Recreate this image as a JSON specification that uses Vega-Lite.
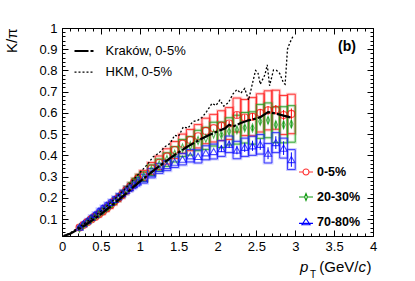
{
"$schema": "https://vega.github.io/schema/vega-lite/v6.json",
"width": 311, "height": 208,
"autosize": {"type": "none"},
"padding": {"left": 62, "top": 28, "right": 42, "bottom": 45},
"background": "white",
"config": {"view": {"stroke": "black", "strokeWidth": 1}, "font": "Liberation Sans", "axis": {"labelOverlap": false}},
"datasets": {
"pts": [
{"c":"0-5%","pt":0.225,"v":0.060,"x0":0.2,"x1":0.25,"lo":0.054,"hi":0.066},
{"c":"0-5%","pt":0.275,"v":0.072,"x0":0.25,"x1":0.3,"lo":0.065,"hi":0.079},
{"c":"0-5%","pt":0.325,"v":0.085,"x0":0.3,"x1":0.35,"lo":0.077,"hi":0.093},
{"c":"0-5%","pt":0.375,"v":0.098,"x0":0.35,"x1":0.4,"lo":0.089,"hi":0.107},
{"c":"0-5%","pt":0.425,"v":0.110,"x0":0.4,"x1":0.45,"lo":0.100,"hi":0.120},
{"c":"0-5%","pt":0.475,"v":0.122,"x0":0.45,"x1":0.5,"lo":0.111,"hi":0.133},
{"c":"0-5%","pt":0.525,"v":0.135,"x0":0.5,"x1":0.55,"lo":0.123,"hi":0.147},
{"c":"0-5%","pt":0.575,"v":0.150,"x0":0.55,"x1":0.6,"lo":0.137,"hi":0.163},
{"c":"0-5%","pt":0.625,"v":0.165,"x0":0.6,"x1":0.65,"lo":0.151,"hi":0.179},
{"c":"0-5%","pt":0.675,"v":0.182,"x0":0.65,"x1":0.7,"lo":0.167,"hi":0.197},
{"c":"0-5%","pt":0.725,"v":0.198,"x0":0.7,"x1":0.75,"lo":0.182,"hi":0.214},
{"c":"0-5%","pt":0.775,"v":0.215,"x0":0.75,"x1":0.8,"lo":0.198,"hi":0.232},
{"c":"0-5%","pt":0.825,"v":0.235,"x0":0.8,"x1":0.85,"lo":0.217,"hi":0.253},
{"c":"0-5%","pt":0.875,"v":0.252,"x0":0.85,"x1":0.9,"lo":0.233,"hi":0.271},
{"c":"0-5%","pt":0.925,"v":0.272,"x0":0.9,"x1":0.95,"lo":0.252,"hi":0.292},
{"c":"0-5%","pt":0.975,"v":0.290,"x0":0.95,"x1":1.0,"lo":0.269,"hi":0.311},
{"c":"0-5%","pt":1.05,"v":0.305,"x0":1.0,"x1":1.1,"lo":0.281,"hi":0.329},
{"c":"0-5%","pt":1.15,"v":0.338,"x0":1.1,"x1":1.2,"lo":0.310,"hi":0.366},
{"c":"0-5%","pt":1.25,"v":0.365,"x0":1.2,"x1":1.3,"lo":0.333,"hi":0.397},
{"c":"0-5%","pt":1.35,"v":0.395,"x0":1.3,"x1":1.4,"lo":0.359,"hi":0.431},
{"c":"0-5%","pt":1.45,"v":0.425,"x0":1.4,"x1":1.5,"lo":0.385,"hi":0.465},
{"c":"0-5%","pt":1.55,"v":0.455,"x0":1.5,"x1":1.6,"lo":0.410,"hi":0.500},
{"c":"0-5%","pt":1.65,"v":0.472,"x0":1.6,"x1":1.7,"lo":0.422,"hi":0.522},
{"c":"0-5%","pt":1.75,"v":0.490,"x0":1.7,"x1":1.8,"lo":0.435,"hi":0.545},
{"c":"0-5%","pt":1.85,"v":0.515,"x0":1.8,"x1":1.9,"lo":0.455,"hi":0.575},
{"c":"0-5%","pt":1.95,"v":0.528,"x0":1.9,"x1":2.0,"lo":0.463,"hi":0.593},
{"c":"0-5%","pt":2.05,"v":0.540,"x0":2.0,"x1":2.1,"lo":0.470,"hi":0.610},
{"c":"0-5%","pt":2.15,"v":0.550,"x0":2.1,"x1":2.2,"lo":0.475,"hi":0.625},
{"c":"0-5%","pt":2.25,"v":0.590,"x0":2.2,"x1":2.3,"lo":0.510,"hi":0.670},
{"c":"0-5%","pt":2.35,"v":0.578,"x0":2.3,"x1":2.4,"lo":0.493,"hi":0.663},
{"c":"0-5%","pt":2.45,"v":0.582,"x0":2.4,"x1":2.5,"lo":0.492,"hi":0.672},
{"c":"0-5%","pt":2.55,"v":0.600,"x0":2.5,"x1":2.6,"lo":0.510,"hi":0.690},
{"c":"0-5%","pt":2.65,"v":0.612,"x0":2.6,"x1":2.7,"lo":0.520,"hi":0.704},
{"c":"0-5%","pt":2.75,"v":0.615,"x0":2.7,"x1":2.8,"lo":0.523,"hi":0.707},
{"c":"0-5%","pt":2.85,"v":0.590,"x0":2.8,"x1":2.9,"lo":0.498,"hi":0.682},
{"c":"0-5%","pt":2.95,"v":0.595,"x0":2.9,"x1":3.0,"lo":0.502,"hi":0.688},
{"c":"20-30%","pt":0.225,"v":0.058,"x0":0.2,"x1":0.25,"lo":0.053,"hi":0.063},
{"c":"20-30%","pt":0.275,"v":0.071,"x0":0.25,"x1":0.3,"lo":0.065,"hi":0.077},
{"c":"20-30%","pt":0.325,"v":0.085,"x0":0.3,"x1":0.35,"lo":0.078,"hi":0.092},
{"c":"20-30%","pt":0.375,"v":0.099,"x0":0.35,"x1":0.4,"lo":0.091,"hi":0.107},
{"c":"20-30%","pt":0.425,"v":0.112,"x0":0.4,"x1":0.45,"lo":0.103,"hi":0.121},
{"c":"20-30%","pt":0.475,"v":0.125,"x0":0.45,"x1":0.5,"lo":0.115,"hi":0.135},
{"c":"20-30%","pt":0.525,"v":0.139,"x0":0.5,"x1":0.55,"lo":0.128,"hi":0.150},
{"c":"20-30%","pt":0.575,"v":0.153,"x0":0.55,"x1":0.6,"lo":0.141,"hi":0.165},
{"c":"20-30%","pt":0.625,"v":0.168,"x0":0.6,"x1":0.65,"lo":0.155,"hi":0.181},
{"c":"20-30%","pt":0.675,"v":0.184,"x0":0.65,"x1":0.7,"lo":0.170,"hi":0.198},
{"c":"20-30%","pt":0.725,"v":0.200,"x0":0.7,"x1":0.75,"lo":0.185,"hi":0.215},
{"c":"20-30%","pt":0.775,"v":0.217,"x0":0.75,"x1":0.8,"lo":0.201,"hi":0.233},
{"c":"20-30%","pt":0.825,"v":0.236,"x0":0.8,"x1":0.85,"lo":0.219,"hi":0.253},
{"c":"20-30%","pt":0.875,"v":0.253,"x0":0.85,"x1":0.9,"lo":0.235,"hi":0.271},
{"c":"20-30%","pt":0.925,"v":0.272,"x0":0.9,"x1":0.95,"lo":0.253,"hi":0.291},
{"c":"20-30%","pt":0.975,"v":0.289,"x0":0.95,"x1":1.0,"lo":0.269,"hi":0.309},
{"c":"20-30%","pt":1.05,"v":0.300,"x0":1.0,"x1":1.1,"lo":0.278,"hi":0.322},
{"c":"20-30%","pt":1.15,"v":0.330,"x0":1.1,"x1":1.2,"lo":0.305,"hi":0.355},
{"c":"20-30%","pt":1.25,"v":0.355,"x0":1.2,"x1":1.3,"lo":0.327,"hi":0.383},
{"c":"20-30%","pt":1.35,"v":0.380,"x0":1.3,"x1":1.4,"lo":0.348,"hi":0.412},
{"c":"20-30%","pt":1.45,"v":0.405,"x0":1.4,"x1":1.5,"lo":0.369,"hi":0.441},
{"c":"20-30%","pt":1.55,"v":0.435,"x0":1.5,"x1":1.6,"lo":0.395,"hi":0.475},
{"c":"20-30%","pt":1.65,"v":0.445,"x0":1.6,"x1":1.7,"lo":0.401,"hi":0.489},
{"c":"20-30%","pt":1.75,"v":0.470,"x0":1.7,"x1":1.8,"lo":0.422,"hi":0.518},
{"c":"20-30%","pt":1.85,"v":0.480,"x0":1.8,"x1":1.9,"lo":0.428,"hi":0.532},
{"c":"20-30%","pt":1.95,"v":0.500,"x0":1.9,"x1":2.0,"lo":0.444,"hi":0.556},
{"c":"20-30%","pt":2.05,"v":0.497,"x0":2.0,"x1":2.1,"lo":0.437,"hi":0.557},
{"c":"20-30%","pt":2.15,"v":0.513,"x0":2.1,"x1":2.2,"lo":0.449,"hi":0.577},
{"c":"20-30%","pt":2.25,"v":0.521,"x0":2.2,"x1":2.3,"lo":0.453,"hi":0.589},
{"c":"20-30%","pt":2.35,"v":0.530,"x0":2.3,"x1":2.4,"lo":0.458,"hi":0.602},
{"c":"20-30%","pt":2.45,"v":0.529,"x0":2.4,"x1":2.5,"lo":0.453,"hi":0.605},
{"c":"20-30%","pt":2.55,"v":0.560,"x0":2.5,"x1":2.6,"lo":0.480,"hi":0.640},
{"c":"20-30%","pt":2.65,"v":0.565,"x0":2.6,"x1":2.7,"lo":0.483,"hi":0.647},
{"c":"20-30%","pt":2.75,"v":0.544,"x0":2.7,"x1":2.8,"lo":0.460,"hi":0.628},
{"c":"20-30%","pt":2.85,"v":0.544,"x0":2.8,"x1":2.9,"lo":0.459,"hi":0.629},
{"c":"20-30%","pt":2.95,"v":0.548,"x0":2.9,"x1":3.0,"lo":0.462,"hi":0.634},
{"c":"70-80%","pt":0.225,"v":0.062,"x0":0.2,"x1":0.25,"lo":0.057,"hi":0.067},
{"c":"70-80%","pt":0.275,"v":0.078,"x0":0.25,"x1":0.3,"lo":0.072,"hi":0.084},
{"c":"70-80%","pt":0.325,"v":0.092,"x0":0.3,"x1":0.35,"lo":0.085,"hi":0.099},
{"c":"70-80%","pt":0.375,"v":0.108,"x0":0.35,"x1":0.4,"lo":0.100,"hi":0.116},
{"c":"70-80%","pt":0.425,"v":0.122,"x0":0.4,"x1":0.45,"lo":0.113,"hi":0.131},
{"c":"70-80%","pt":0.475,"v":0.138,"x0":0.45,"x1":0.5,"lo":0.128,"hi":0.148},
{"c":"70-80%","pt":0.525,"v":0.152,"x0":0.5,"x1":0.55,"lo":0.141,"hi":0.163},
{"c":"70-80%","pt":0.575,"v":0.165,"x0":0.55,"x1":0.6,"lo":0.153,"hi":0.177},
{"c":"70-80%","pt":0.625,"v":0.178,"x0":0.6,"x1":0.65,"lo":0.165,"hi":0.191},
{"c":"70-80%","pt":0.675,"v":0.192,"x0":0.65,"x1":0.7,"lo":0.178,"hi":0.206},
{"c":"70-80%","pt":0.725,"v":0.205,"x0":0.7,"x1":0.75,"lo":0.190,"hi":0.220},
{"c":"70-80%","pt":0.775,"v":0.220,"x0":0.75,"x1":0.8,"lo":0.204,"hi":0.236},
{"c":"70-80%","pt":0.825,"v":0.235,"x0":0.8,"x1":0.85,"lo":0.218,"hi":0.252},
{"c":"70-80%","pt":0.875,"v":0.248,"x0":0.85,"x1":0.9,"lo":0.230,"hi":0.266},
{"c":"70-80%","pt":0.925,"v":0.262,"x0":0.9,"x1":0.95,"lo":0.243,"hi":0.281},
{"c":"70-80%","pt":0.975,"v":0.275,"x0":0.95,"x1":1.0,"lo":0.255,"hi":0.295},
{"c":"70-80%","pt":1.05,"v":0.290,"x0":1.0,"x1":1.1,"lo":0.269,"hi":0.311},
{"c":"70-80%","pt":1.15,"v":0.316,"x0":1.1,"x1":1.2,"lo":0.294,"hi":0.338},
{"c":"70-80%","pt":1.25,"v":0.338,"x0":1.2,"x1":1.3,"lo":0.315,"hi":0.361},
{"c":"70-80%","pt":1.35,"v":0.352,"x0":1.3,"x1":1.4,"lo":0.328,"hi":0.376},
{"c":"70-80%","pt":1.45,"v":0.368,"x0":1.4,"x1":1.5,"lo":0.343,"hi":0.393},
{"c":"70-80%","pt":1.55,"v":0.382,"x0":1.5,"x1":1.6,"lo":0.355,"hi":0.409},
{"c":"70-80%","pt":1.65,"v":0.398,"x0":1.6,"x1":1.7,"lo":0.369,"hi":0.427},
{"c":"70-80%","pt":1.75,"v":0.395,"x0":1.7,"x1":1.8,"lo":0.364,"hi":0.426},
{"c":"70-80%","pt":1.85,"v":0.412,"x0":1.8,"x1":1.9,"lo":0.379,"hi":0.445},
{"c":"70-80%","pt":1.95,"v":0.418,"x0":1.9,"x1":2.0,"lo":0.383,"hi":0.453},
{"c":"70-80%","pt":2.05,"v":0.432,"x0":2.0,"x1":2.1,"lo":0.395,"hi":0.469},
{"c":"70-80%","pt":2.15,"v":0.452,"x0":2.1,"x1":2.2,"lo":0.413,"hi":0.491},
{"c":"70-80%","pt":2.25,"v":0.425,"x0":2.2,"x1":2.3,"lo":0.384,"hi":0.466},
{"c":"70-80%","pt":2.35,"v":0.438,"x0":2.3,"x1":2.4,"lo":0.395,"hi":0.481},
{"c":"70-80%","pt":2.45,"v":0.445,"x0":2.4,"x1":2.5,"lo":0.400,"hi":0.490},
{"c":"70-80%","pt":2.55,"v":0.452,"x0":2.5,"x1":2.6,"lo":0.406,"hi":0.498},
{"c":"70-80%","pt":2.65,"v":0.410,"x0":2.6,"x1":2.7,"lo":0.364,"hi":0.456},
{"c":"70-80%","pt":2.75,"v":0.460,"x0":2.7,"x1":2.8,"lo":0.413,"hi":0.507},
{"c":"70-80%","pt":2.85,"v":0.434,"x0":2.8,"x1":2.9,"lo":0.387,"hi":0.481},
{"c":"70-80%","pt":2.95,"v":0.380,"x0":2.9,"x1":3.0,"lo":0.333,"hi":0.427}
],
"stat": [
{"c":"0-5%","pt":2.05,"elo":0.528,"ehi":0.552},{"c":"0-5%","pt":2.15,"elo":0.537,"ehi":0.563},{"c":"0-5%","pt":2.25,"elo":0.576,"ehi":0.604},{"c":"0-5%","pt":2.35,"elo":0.563,"ehi":0.593},{"c":"0-5%","pt":2.45,"elo":0.565,"ehi":0.599},{"c":"0-5%","pt":2.55,"elo":0.582,"ehi":0.618},{"c":"0-5%","pt":2.65,"elo":0.592,"ehi":0.632},{"c":"0-5%","pt":2.75,"elo":0.593,"ehi":0.637},{"c":"0-5%","pt":2.85,"elo":0.566,"ehi":0.614},{"c":"0-5%","pt":2.95,"elo":0.569,"ehi":0.621},
{"c":"20-30%","pt":2.05,"elo":0.487,"ehi":0.507},{"c":"20-30%","pt":2.15,"elo":0.502,"ehi":0.524},{"c":"20-30%","pt":2.25,"elo":0.509,"ehi":0.533},{"c":"20-30%","pt":2.35,"elo":0.517,"ehi":0.543},{"c":"20-30%","pt":2.45,"elo":0.515,"ehi":0.543},{"c":"20-30%","pt":2.55,"elo":0.545,"ehi":0.575},{"c":"20-30%","pt":2.65,"elo":0.549,"ehi":0.581},{"c":"20-30%","pt":2.75,"elo":0.527,"ehi":0.561},{"c":"20-30%","pt":2.85,"elo":0.526,"ehi":0.562},{"c":"20-30%","pt":2.95,"elo":0.529,"ehi":0.567},
{"c":"70-80%","pt":2.05,"elo":0.416,"ehi":0.448},{"c":"70-80%","pt":2.15,"elo":0.434,"ehi":0.470},{"c":"70-80%","pt":2.25,"elo":0.405,"ehi":0.445},{"c":"70-80%","pt":2.35,"elo":0.416,"ehi":0.460},{"c":"70-80%","pt":2.45,"elo":0.421,"ehi":0.469},{"c":"70-80%","pt":2.55,"elo":0.426,"ehi":0.478},{"c":"70-80%","pt":2.65,"elo":0.382,"ehi":0.438},{"c":"70-80%","pt":2.75,"elo":0.430,"ehi":0.490},{"c":"70-80%","pt":2.85,"elo":0.402,"ehi":0.466},{"c":"70-80%","pt":2.95,"elo":0.346,"ehi":0.414}
],
"models": [
{"m":"Kraków, 0-5%","pt":0.02,"v":0.020},{"m":"Kraków, 0-5%","pt":0.1,"v":0.030},{"m":"Kraków, 0-5%","pt":0.2,"v":0.050},{"m":"Kraków, 0-5%","pt":0.3,"v":0.072},{"m":"Kraków, 0-5%","pt":0.4,"v":0.097},{"m":"Kraków, 0-5%","pt":0.5,"v":0.123},{"m":"Kraków, 0-5%","pt":0.6,"v":0.152},{"m":"Kraków, 0-5%","pt":0.7,"v":0.182},{"m":"Kraków, 0-5%","pt":0.8,"v":0.213},{"m":"Kraków, 0-5%","pt":0.9,"v":0.245},{"m":"Kraków, 0-5%","pt":1.0,"v":0.276},{"m":"Kraków, 0-5%","pt":1.1,"v":0.306},{"m":"Kraków, 0-5%","pt":1.2,"v":0.335},{"m":"Kraków, 0-5%","pt":1.3,"v":0.362},{"m":"Kraków, 0-5%","pt":1.4,"v":0.389},{"m":"Kraków, 0-5%","pt":1.5,"v":0.414},{"m":"Kraków, 0-5%","pt":1.6,"v":0.438},{"m":"Kraków, 0-5%","pt":1.7,"v":0.459},{"m":"Kraków, 0-5%","pt":1.8,"v":0.479},{"m":"Kraków, 0-5%","pt":1.9,"v":0.497},{"m":"Kraków, 0-5%","pt":2.0,"v":0.513},{"m":"Kraków, 0-5%","pt":2.1,"v":0.528},{"m":"Kraków, 0-5%","pt":2.15,"v":0.544},{"m":"Kraków, 0-5%","pt":2.2,"v":0.536},{"m":"Kraków, 0-5%","pt":2.3,"v":0.552},{"m":"Kraków, 0-5%","pt":2.4,"v":0.565},{"m":"Kraków, 0-5%","pt":2.5,"v":0.574},{"m":"Kraków, 0-5%","pt":2.55,"v":0.580},{"m":"Kraków, 0-5%","pt":2.65,"v":0.604},{"m":"Kraków, 0-5%","pt":2.75,"v":0.597},{"m":"Kraków, 0-5%","pt":2.85,"v":0.587},{"m":"Kraków, 0-5%","pt":2.95,"v":0.578},
{"m":"HKM, 0-5%","pt":0.02,"v":0.020},{"m":"HKM, 0-5%","pt":0.1,"v":0.033},{"m":"HKM, 0-5%","pt":0.2,"v":0.057},{"m":"HKM, 0-5%","pt":0.3,"v":0.082},{"m":"HKM, 0-5%","pt":0.4,"v":0.108},{"m":"HKM, 0-5%","pt":0.5,"v":0.137},{"m":"HKM, 0-5%","pt":0.6,"v":0.168},{"m":"HKM, 0-5%","pt":0.7,"v":0.202},{"m":"HKM, 0-5%","pt":0.8,"v":0.238},{"m":"HKM, 0-5%","pt":0.9,"v":0.278},{"m":"HKM, 0-5%","pt":1.0,"v":0.318},{"m":"HKM, 0-5%","pt":1.1,"v":0.358},{"m":"HKM, 0-5%","pt":1.17,"v":0.392},{"m":"HKM, 0-5%","pt":1.25,"v":0.412},{"m":"HKM, 0-5%","pt":1.32,"v":0.440},{"m":"HKM, 0-5%","pt":1.39,"v":0.456},{"m":"HKM, 0-5%","pt":1.45,"v":0.495},{"m":"HKM, 0-5%","pt":1.5,"v":0.490},{"m":"HKM, 0-5%","pt":1.56,"v":0.534},{"m":"HKM, 0-5%","pt":1.62,"v":0.528},{"m":"HKM, 0-5%","pt":1.68,"v":0.558},{"m":"HKM, 0-5%","pt":1.75,"v":0.566},{"m":"HKM, 0-5%","pt":1.8,"v":0.578},{"m":"HKM, 0-5%","pt":1.86,"v":0.606},{"m":"HKM, 0-5%","pt":1.93,"v":0.645},{"m":"HKM, 0-5%","pt":1.98,"v":0.635},{"m":"HKM, 0-5%","pt":2.03,"v":0.660},{"m":"HKM, 0-5%","pt":2.08,"v":0.632},{"m":"HKM, 0-5%","pt":2.14,"v":0.648},{"m":"HKM, 0-5%","pt":2.2,"v":0.690},{"m":"HKM, 0-5%","pt":2.25,"v":0.710},{"m":"HKM, 0-5%","pt":2.3,"v":0.693},{"m":"HKM, 0-5%","pt":2.35,"v":0.715},{"m":"HKM, 0-5%","pt":2.4,"v":0.660},{"m":"HKM, 0-5%","pt":2.45,"v":0.740},{"m":"HKM, 0-5%","pt":2.49,"v":0.800},{"m":"HKM, 0-5%","pt":2.52,"v":0.790},{"m":"HKM, 0-5%","pt":2.55,"v":0.735},{"m":"HKM, 0-5%","pt":2.61,"v":0.780},{"m":"HKM, 0-5%","pt":2.64,"v":0.826},{"m":"HKM, 0-5%","pt":2.67,"v":0.728},{"m":"HKM, 0-5%","pt":2.72,"v":0.802},{"m":"HKM, 0-5%","pt":2.76,"v":0.800},{"m":"HKM, 0-5%","pt":2.8,"v":0.786},{"m":"HKM, 0-5%","pt":2.85,"v":0.740},{"m":"HKM, 0-5%","pt":2.87,"v":0.735},{"m":"HKM, 0-5%","pt":2.9,"v":0.900},{"m":"HKM, 0-5%","pt":2.93,"v":0.930},{"m":"HKM, 0-5%","pt":2.97,"v":0.960}
]
},
"resolve": {"axis": {"x": "independent", "y": "independent"}},
"layer": [
{"data": {"name": "pts"}, "transform": [{"filter": {"field": "c", "equal": "0-5%"}}],
 "mark": {"type": "rect", "fillOpacity": 0, "stroke": "#ff2020", "strokeWidth": 3, "strokeOpacity": 0.22},
 "encoding": {
  "x": {"field": "x0", "type": "quantitative", "scale": {"domain": [0, 4], "nice": false, "zero": false},
   "axis": {"orient": "bottom", "title": null, "domain": false, "grid": false, "values": [0,0.5,1,1.5,2,2.5,3,3.5,4], "format": "~g",
    "labelOverlap": false, "labelFlush": false, "tickSize": -6, "tickColor": "black", "labelPadding": 10, "labelFont": "Liberation Sans", "labelFontSize": 13, "labelColor": "black"}},
  "x2": {"field": "x1"},
  "y": {"field": "lo", "type": "quantitative", "scale": {"domain": [0.02, 1], "nice": false, "zero": false},
   "axis": {"orient": "left", "title": "K/π", "domain": false, "grid": false, "values": [0.1,0.2,0.3,0.4,0.5,0.6,0.7,0.8,0.9,1], "format": "~g",
    "labelOverlap": false, "labelFlush": false, "tickSize": -6, "tickColor": "black", "labelPadding": 11, "labelFont": "Liberation Sans", "labelFontSize": 13, "labelColor": "black",
    "titleFont": "Liberation Sans", "titleFontSize": 15, "titleFontWeight": "normal", "titleColor": "black", "titleAnchor": "end", "titlePadding": 19}},
  "y2": {"field": "hi"}
 }},
{"data": {"name": "pts"}, "transform": [{"filter": {"field": "c", "equal": "20-30%"}}],
 "mark": {"type": "rect", "fillOpacity": 0, "stroke": "#20a020", "strokeWidth": 3, "strokeOpacity": 0.22},
 "encoding": {
  "x": {"field": "x0", "type": "quantitative", "scale": {"domain": [0, 4], "nice": false, "zero": false},
   "axis": {"orient": "bottom", "title": null, "domain": false, "grid": false, "labels": false,
    "values": [0,0.1,0.2,0.3,0.4,0.5,0.6,0.7,0.8,0.9,1,1.1,1.2,1.3,1.4,1.5,1.6,1.7,1.8,1.9,2,2.1,2.2,2.3,2.4,2.5,2.6,2.7,2.8,2.9,3,3.1,3.2,3.3,3.4,3.5,3.6,3.7,3.8,3.9,4],
    "tickSize": -3, "tickColor": "black"}},
  "x2": {"field": "x1"},
  "y": {"field": "lo", "type": "quantitative", "scale": {"domain": [0.02, 1], "nice": false, "zero": false},
   "axis": {"orient": "left", "title": null, "domain": false, "grid": false, "labels": false,
    "values": [0.02,0.04,0.06,0.08,0.1,0.12,0.14,0.16,0.18,0.2,0.22,0.24,0.26,0.28,0.3,0.32,0.34,0.36,0.38,0.4,0.42,0.44,0.46,0.48,0.5,0.52,0.54,0.56,0.58,0.6,0.62,0.64,0.66,0.68,0.7,0.72,0.74,0.76,0.78,0.8,0.82,0.84,0.86,0.88,0.9,0.92,0.94,0.96,0.98,1],
    "tickSize": -3, "tickColor": "black"}},
  "y2": {"field": "hi"}
 }},
{"data": {"name": "pts"}, "transform": [{"filter": {"field": "c", "equal": "70-80%"}}],
 "mark": {"type": "rect", "fillOpacity": 0, "stroke": "#2020ff", "strokeWidth": 3, "strokeOpacity": 0.22},
 "encoding": {
  "x": {"field": "x0", "type": "quantitative", "scale": {"domain": [0, 4], "nice": false, "zero": false},
   "axis": {"orient": "top", "title": null, "domain": false, "grid": false, "labels": false, "values": [0,0.5,1,1.5,2,2.5,3,3.5,4], "tickSize": -6, "tickColor": "black"}},
  "x2": {"field": "x1"},
  "y": {"field": "lo", "type": "quantitative", "scale": {"domain": [0.02, 1], "nice": false, "zero": false},
   "axis": {"orient": "right", "title": null, "domain": false, "grid": false, "labels": false, "values": [0.1,0.2,0.3,0.4,0.5,0.6,0.7,0.8,0.9,1], "tickSize": -6, "tickColor": "black"}},
  "y2": {"field": "hi"}
 }},
{"data": {"name": "pts"}, "transform": [{"filter": {"field": "c", "equal": "0-5%"}}],
 "mark": {"type": "rect", "fillOpacity": 0, "stroke": "#ff2020", "strokeWidth": 1, "strokeOpacity": 0.85},
 "encoding": {
  "x": {"field": "x0", "type": "quantitative", "scale": {"domain": [0, 4], "nice": false, "zero": false},
   "axis": {"orient": "top", "title": null, "domain": false, "grid": false, "labels": false,
    "values": [0,0.1,0.2,0.3,0.4,0.5,0.6,0.7,0.8,0.9,1,1.1,1.2,1.3,1.4,1.5,1.6,1.7,1.8,1.9,2,2.1,2.2,2.3,2.4,2.5,2.6,2.7,2.8,2.9,3,3.1,3.2,3.3,3.4,3.5,3.6,3.7,3.8,3.9,4],
    "tickSize": -3, "tickColor": "black"}},
  "x2": {"field": "x1"},
  "y": {"field": "lo", "type": "quantitative", "scale": {"domain": [0.02, 1], "nice": false, "zero": false},
   "axis": {"orient": "right", "title": null, "domain": false, "grid": false, "labels": false,
    "values": [0.02,0.04,0.06,0.08,0.1,0.12,0.14,0.16,0.18,0.2,0.22,0.24,0.26,0.28,0.3,0.32,0.34,0.36,0.38,0.4,0.42,0.44,0.46,0.48,0.5,0.52,0.54,0.56,0.58,0.6,0.62,0.64,0.66,0.68,0.7,0.72,0.74,0.76,0.78,0.8,0.82,0.84,0.86,0.88,0.9,0.92,0.94,0.96,0.98,1],
    "tickSize": -3, "tickColor": "black"}},
  "y2": {"field": "hi"}
 }},
{"data": {"name": "pts"}, "transform": [{"filter": {"field": "c", "equal": "20-30%"}}],
 "mark": {"type": "rect", "fillOpacity": 0, "stroke": "#20a020", "strokeWidth": 1, "strokeOpacity": 0.85},
 "encoding": {
  "x": {"field": "x0", "type": "quantitative", "scale": {"domain": [0, 4], "nice": false, "zero": false}, "axis": null},
  "x2": {"field": "x1"},
  "y": {"field": "lo", "type": "quantitative", "scale": {"domain": [0.02, 1], "nice": false, "zero": false}, "axis": null},
  "y2": {"field": "hi"}
 }},
{"data": {"name": "pts"}, "transform": [{"filter": {"field": "c", "equal": "70-80%"}}],
 "mark": {"type": "rect", "fillOpacity": 0, "stroke": "#2020ff", "strokeWidth": 1, "strokeOpacity": 0.85},
 "encoding": {
  "x": {"field": "x0", "type": "quantitative", "scale": {"domain": [0, 4], "nice": false, "zero": false}, "axis": null},
  "x2": {"field": "x1"},
  "y": {"field": "lo", "type": "quantitative", "scale": {"domain": [0.02, 1], "nice": false, "zero": false}, "axis": null},
  "y2": {"field": "hi"}
 }},
{"data": {"name": "stat"}, "transform": [{"filter": {"field": "c", "equal": "0-5%"}}],
 "mark": {"type": "rule", "color": "#ff0000", "strokeWidth": 1},
 "encoding": {"x": {"field": "pt", "type": "quantitative", "scale": {"domain": [0, 4], "nice": false, "zero": false}, "axis": null},
  "y": {"field": "elo", "type": "quantitative", "scale": {"domain": [0.02, 1], "nice": false, "zero": false}, "axis": null}, "y2": {"field": "ehi"}}},
{"data": {"name": "stat"}, "transform": [{"filter": {"field": "c", "equal": "20-30%"}}],
 "mark": {"type": "rule", "color": "#109a10", "strokeWidth": 1},
 "encoding": {"x": {"field": "pt", "type": "quantitative", "scale": {"domain": [0, 4], "nice": false, "zero": false}, "axis": null},
  "y": {"field": "elo", "type": "quantitative", "scale": {"domain": [0.02, 1], "nice": false, "zero": false}, "axis": null}, "y2": {"field": "ehi"}}},
{"data": {"name": "stat"}, "transform": [{"filter": {"field": "c", "equal": "70-80%"}}],
 "mark": {"type": "rule", "color": "#0000ff", "strokeWidth": 1},
 "encoding": {"x": {"field": "pt", "type": "quantitative", "scale": {"domain": [0, 4], "nice": false, "zero": false}, "axis": null},
  "y": {"field": "elo", "type": "quantitative", "scale": {"domain": [0.02, 1], "nice": false, "zero": false}, "axis": null}, "y2": {"field": "ehi"}}},
{"data": {"name": "pts"}, "transform": [{"filter": {"field": "c", "equal": "0-5%"}}],
 "mark": {"type": "point", "shape": "circle", "filled": false, "color": "#ff0000", "size": 50, "strokeWidth": 1.1},
 "encoding": {"x": {"field": "pt", "type": "quantitative", "scale": {"domain": [0, 4], "nice": false, "zero": false}, "axis": null},
  "y": {"field": "v", "type": "quantitative", "scale": {"domain": [0.02, 1], "nice": false, "zero": false}, "axis": null}}},
{"data": {"name": "pts"}, "transform": [{"filter": {"field": "c", "equal": "20-30%"}}],
 "mark": {"type": "point", "shape": "M0,-1L0.4,0L0,1L-0.4,0Z", "filled": false, "color": "#109a10", "size": 64, "strokeWidth": 1.1},
 "encoding": {"x": {"field": "pt", "type": "quantitative", "scale": {"domain": [0, 4], "nice": false, "zero": false}, "axis": null},
  "y": {"field": "v", "type": "quantitative", "scale": {"domain": [0.02, 1], "nice": false, "zero": false}, "axis": null}}},
{"data": {"name": "pts"}, "transform": [{"filter": {"field": "c", "equal": "70-80%"}}],
 "mark": {"type": "point", "shape": "triangle-up", "filled": false, "color": "#0000ff", "size": 50, "strokeWidth": 1.1},
 "encoding": {"x": {"field": "pt", "type": "quantitative", "scale": {"domain": [0, 4], "nice": false, "zero": false}, "axis": null},
  "y": {"field": "v", "type": "quantitative", "scale": {"domain": [0.02, 1], "nice": false, "zero": false}, "axis": null}}},
{"data": {"name": "pts"},
 "mark": {"type": "point", "filled": false, "opacity": 0, "strokeWidth": 1.1},
 "encoding": {"x": {"field": "pt", "type": "quantitative", "scale": {"domain": [0, 4], "nice": false, "zero": false}, "axis": null},
  "y": {"field": "v", "type": "quantitative", "scale": {"domain": [0.02, 1], "nice": false, "zero": false}, "axis": null},
  "color": {"field": "c", "type": "nominal", "scale": {"domain": ["0-5%", "20-30%", "70-80%"], "range": ["#ff3030", "#109a10", "#0000ff"]},
   "legend": {"orient": "none", "legendX": 236, "legendY": 136, "title": null, "padding": 0, "symbolSize": 196, "symbolStrokeWidth": 1.1, "symbolFillColor": "transparent", "labelFont": "Liberation Sans", "labelFontSize": 12.5, "labelFontWeight": "bold", "labelColor": "black", "labelOffset": 3, "rowPadding": 10, "encode": {"symbols": {"opacity": {"value": 1}, "fill": {"value": "transparent"}, "fillOpacity": {"value": 0}}}}},
  "shape": {"field": "c", "type": "nominal", "scale": {"domain": ["0-5%", "20-30%", "70-80%"], "range": ["M-1,0H-0.43M0.43,0H1M-0.43,0A0.43,0.43,0,1,0,0.43,0A0.43,0.43,0,1,0,-0.43,0", "M-1,0H-0.2M0.2,0H1M0,-0.5L0.2,0L0,0.5L-0.2,0Z", "M-1,0.2H1M0,-0.5L0.58,0.4L-0.58,0.4Z"]},
   "legend": {"orient": "none", "legendX": 236, "legendY": 136, "title": null, "padding": 0, "symbolSize": 196, "symbolStrokeWidth": 1.1, "symbolFillColor": "transparent", "labelFont": "Liberation Sans", "labelFontSize": 12.5, "labelFontWeight": "bold", "labelColor": "black", "labelOffset": 3, "rowPadding": 10, "encode": {"symbols": {"opacity": {"value": 1}, "fill": {"value": "transparent"}, "fillOpacity": {"value": 0}}}}}
 }},
{"data": {"name": "models"},
 "mark": {"type": "line", "color": "black", "clip": true},
 "encoding": {
  "x": {"field": "pt", "type": "quantitative", "scale": {"domain": [0, 4], "nice": false, "zero": false}, "axis": null},
  "y": {"field": "v", "type": "quantitative", "scale": {"domain": [0.02, 1], "nice": false, "zero": false}, "axis": null},
  "strokeDash": {"field": "m", "type": "nominal", "scale": {"domain": ["Kraków, 0-5%", "HKM, 0-5%"], "range": [[14, 2, 3, 2], [2, 2]]},
   "legend": {"orient": "none", "legendX": 11, "legendY": 11.5, "title": null, "padding": 0, "symbolSize": 400, "symbolStrokeColor": "black", "labelFont": "Liberation Sans", "labelFontSize": 13, "labelColor": "black", "labelOffset": 9.5, "rowPadding": 2.7}},
  "strokeWidth": {"field": "m", "type": "nominal", "scale": {"domain": ["Kraków, 0-5%", "HKM, 0-5%"], "range": [2.2, 1.3]},
   "legend": {"orient": "none", "legendX": 11, "legendY": 11.5, "title": null, "padding": 0, "symbolSize": 400, "symbolStrokeColor": "black", "labelFont": "Liberation Sans", "labelFontSize": 13, "labelColor": "black", "labelOffset": 9.5, "rowPadding": 2.7}}
 }},
{"data": {"values": [{}]}, "mark": {"type": "text", "text": "(b)", "font": "Liberation Sans", "fontSize": 14, "fontWeight": "bold", "align": "left", "baseline": "middle", "color": "black"},
 "encoding": {"x": {"datum": 3.55, "type": "quantitative", "scale": {"domain": [0, 4], "nice": false, "zero": false}, "axis": null}, "y": {"datum": 0.91, "type": "quantitative", "scale": {"domain": [0.02, 1], "nice": false, "zero": false}, "axis": null}}},
{"data": {"values": [{}]}, "mark": {"type": "text", "text": "p", "font": "Liberation Sans", "fontSize": 15, "fontStyle": "italic", "align": "left", "baseline": "alphabetic", "color": "black"},
 "encoding": {"x": {"datum": 3.061, "type": "quantitative", "scale": {"domain": [0, 4], "nice": false, "zero": false}, "axis": null}, "y": {"datum": -0.15, "type": "quantitative", "scale": {"domain": [0.02, 1], "nice": false, "zero": false}, "axis": null}}},
{"data": {"values": [{}]}, "mark": {"type": "text", "text": "T", "font": "Liberation Sans", "fontSize": 10, "align": "left", "baseline": "alphabetic", "color": "black"},
 "encoding": {"x": {"datum": 3.19, "type": "quantitative", "scale": {"domain": [0, 4], "nice": false, "zero": false}, "axis": null}, "y": {"datum": -0.18, "type": "quantitative", "scale": {"domain": [0.02, 1], "nice": false, "zero": false}, "axis": null}}},
{"data": {"values": [{}]}, "mark": {"type": "text", "text": "(GeV/", "font": "Liberation Sans", "fontSize": 15, "align": "left", "baseline": "alphabetic", "color": "black"},
 "encoding": {"x": {"datum": 3.31, "type": "quantitative", "scale": {"domain": [0, 4], "nice": false, "zero": false}, "axis": null}, "y": {"datum": -0.15, "type": "quantitative", "scale": {"domain": [0.02, 1], "nice": false, "zero": false}, "axis": null}}},
{"data": {"values": [{}]}, "mark": {"type": "text", "text": "c", "font": "Liberation Sans", "fontSize": 15, "fontStyle": "italic", "align": "left", "baseline": "alphabetic", "color": "black"},
 "encoding": {"x": {"datum": 3.815, "type": "quantitative", "scale": {"domain": [0, 4], "nice": false, "zero": false}, "axis": null}, "y": {"datum": -0.15, "type": "quantitative", "scale": {"domain": [0.02, 1], "nice": false, "zero": false}, "axis": null}}},
{"data": {"values": [{}]}, "mark": {"type": "text", "text": ")", "font": "Liberation Sans", "fontSize": 15, "align": "left", "baseline": "alphabetic", "color": "black"},
 "encoding": {"x": {"datum": 3.915, "type": "quantitative", "scale": {"domain": [0, 4], "nice": false, "zero": false}, "axis": null}, "y": {"datum": -0.15, "type": "quantitative", "scale": {"domain": [0.02, 1], "nice": false, "zero": false}, "axis": null}}}
]
}
